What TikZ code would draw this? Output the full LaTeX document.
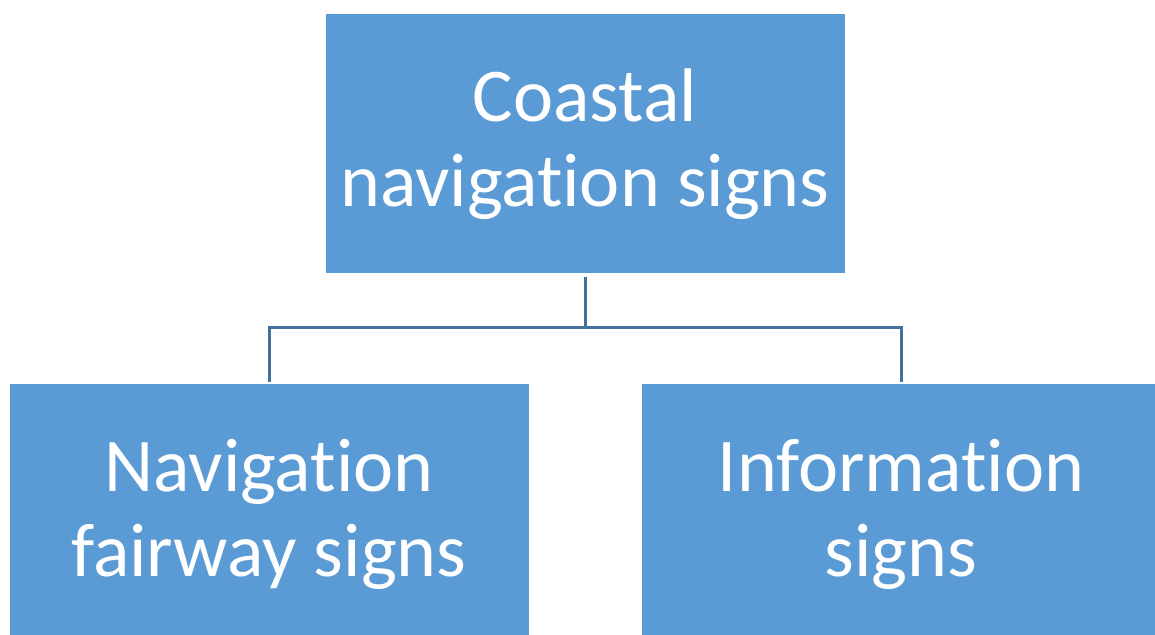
\documentclass[tikz,border=0pt]{standalone}
\usepackage{fontspec}
\setmainfont{Carlito}[RawFeature={-liga}]
\definecolor{boxblue}{HTML}{5B9BD5}
\definecolor{linkblue}{HTML}{41719C}
\begin{document}
\begin{tikzpicture}[x=1pt,y=1pt,
  box/.style={fill=boxblue, text=white, minimum width=519pt, minimum height=259pt,
    inner sep=0pt, align=center, font=\fontsize{76}{85}\selectfont},
  link/.style={draw=linkblue, line width=3pt}]
\useasboundingbox (0,0) rectangle (1155,634);
\clip (0,0) rectangle (1155,634);
\node[box] (top) at (585,490) {Coastal\\navigation signs};
\node[box] (left) at (269,120) {Navigation\\fairway signs};
\node[box] (right) at (901,120) {Information\\signs};
\coordinate (j) at (585,306);
\draw[link, shorten <=3pt] (top.south) -- (j);
\draw[link, shorten <=2pt, shorten >=2pt] (left.north) |- (j) -| (right.north);
\end{tikzpicture}
\end{document}
